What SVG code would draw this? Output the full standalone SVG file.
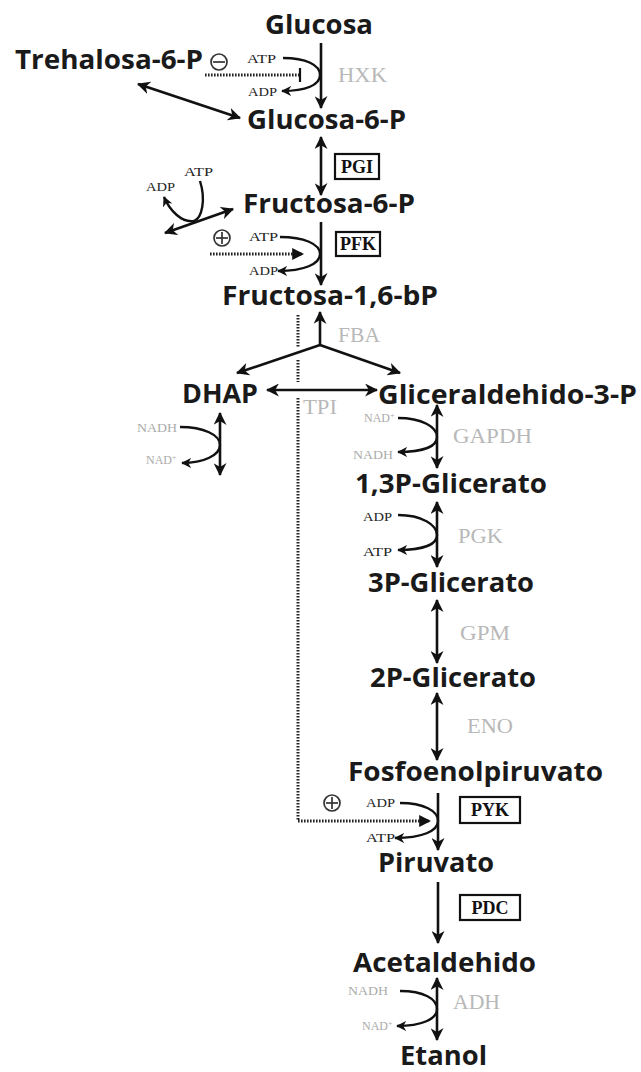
<svg xmlns="http://www.w3.org/2000/svg" width="641" height="1072" viewBox="0 0 641 1072">
<style>
.m{font-family:"Open Sans","Liberation Sans",sans-serif;font-weight:700;font-size:27px;fill:#1a1a1a}
.enz{font-family:"Liberation Serif",serif;font-size:21px;fill:#b8b8b8}
.co{font-family:"Liberation Serif",serif;font-size:12px;fill:#222}
.nad{font-family:"Liberation Serif",serif;font-size:12px;fill:#aaa}
.bx{font-family:"Liberation Serif",serif;font-weight:700;font-size:18px;fill:#111;text-anchor:middle}
.box{fill:#fff;stroke:#111;stroke-width:2.2}
.ln{fill:none;stroke:#111;stroke-width:2.6}
.cv{fill:none;stroke:#111;stroke-width:2.4}
.dot{fill:none;stroke:#222;stroke-width:3;stroke-dasharray:1.6 1.4}
.sym{fill:none;stroke:#333;stroke-width:1.7}
</style>
<defs>
<marker id="ah" viewBox="0 0 12 12" refX="11" refY="6" markerWidth="13" markerHeight="13" markerUnits="userSpaceOnUse" orient="auto-start-reverse">
<path d="M0,0 L12,6 L0,12 L3.5,6 z" fill="#111"/>
</marker>
<marker id="sh" viewBox="0 0 12 12" refX="11" refY="6" markerWidth="10" markerHeight="10" markerUnits="userSpaceOnUse" orient="auto-start-reverse">
<path d="M0,0 L12,6 L0,12 L3.5,6 z" fill="#111"/>
</marker>
<marker id="tri" viewBox="0 0 10 10" refX="9" refY="5" markerWidth="12" markerHeight="12" markerUnits="userSpaceOnUse" orient="auto">
<path d="M0,0 L10,5 L0,10 z" fill="#111"/>
</marker>
</defs>

<g id="connectors">
<line class="ln" x1="321" y1="43" x2="321" y2="108" marker-end="url(#ah)"/>
<line class="ln" x1="321" y1="137" x2="321" y2="195" marker-start="url(#ah)" marker-end="url(#ah)"/>
<line class="ln" x1="321" y1="222" x2="321" y2="285" marker-end="url(#ah)"/>
<line class="ln" x1="320" y1="345" x2="320" y2="312" marker-end="url(#ah)"/>
<line class="ln" x1="320" y1="345" x2="237" y2="373" marker-end="url(#ah)"/>
<line class="ln" x1="320" y1="345" x2="400" y2="373" marker-end="url(#ah)"/>
<line class="ln" x1="267" y1="390" x2="377" y2="390" marker-start="url(#ah)" marker-end="url(#ah)"/>
<line class="ln" x1="220" y1="413" x2="220" y2="475" marker-start="url(#ah)" marker-end="url(#ah)"/>
<line class="ln" x1="437" y1="405" x2="437" y2="468" marker-start="url(#ah)" marker-end="url(#ah)"/>
<line class="ln" x1="437" y1="502" x2="437" y2="567" marker-start="url(#ah)" marker-end="url(#ah)"/>
<line class="ln" x1="437" y1="600" x2="437" y2="663" marker-start="url(#ah)" marker-end="url(#ah)"/>
<line class="ln" x1="437" y1="693" x2="437" y2="760" marker-start="url(#ah)" marker-end="url(#ah)"/>
<line class="ln" x1="438" y1="793" x2="438" y2="850" marker-end="url(#ah)"/>
<line class="ln" x1="438" y1="882" x2="438" y2="943" marker-end="url(#ah)"/>
<line class="ln" x1="437" y1="978" x2="437" y2="1040" marker-start="url(#ah)" marker-end="url(#ah)"/>
<line class="ln" x1="138" y1="84" x2="240" y2="118" marker-start="url(#ah)" marker-end="url(#ah)"/>
<line class="ln" x1="165" y1="233" x2="233" y2="209" marker-start="url(#ah)" marker-end="url(#ah)"/>
<path class="cv" d="M283,58 C306,58 320,65 320,75 C320,85 306,91 282,91" marker-end="url(#sh)"/>
<path class="cv" d="M200,181 C206,200 202,218 194,221 C182,223 170,211 164,197" marker-end="url(#sh)"/>
<path class="cv" d="M280,237 C304,237 320,244 320,254 C320,264 304,271 278,271" marker-end="url(#sh)"/>
<path class="cv" d="M180,427 C204,427 220,435 220,445 C220,455 204,463 182,463" marker-end="url(#sh)"/>
<path class="cv" d="M398,418 C422,418 437,427 437,437 C437,447 422,452 398,452" marker-end="url(#sh)"/>
<path class="cv" d="M398,515 C422,515 437,525 437,535 C437,545 422,550 398,550" marker-end="url(#sh)"/>
<path class="cv" d="M400,803 C424,803 438,811 438,821 C438,831 422,838 395,838" marker-end="url(#sh)"/>
<path class="cv" d="M400,991 C424,991 437,999 437,1009 C437,1019 422,1026 397,1026" marker-end="url(#sh)"/>
<line class="dot" x1="205" y1="75" x2="299" y2="75"/>
<line x1="300" y1="68" x2="300" y2="82" stroke="#111" stroke-width="2.2"/>
<line class="dot" x1="210" y1="254" x2="303" y2="254" marker-end="url(#tri)"/>
<polyline class="dot" points="298,315 298,348"/>
<polyline class="dot" points="298,360 298,382"/>
<polyline class="dot" points="298,398 298,821 430,821" marker-end="url(#tri)"/>
</g>

<g id="symbols">
<g id="inhib-sign"><circle class="sym" cx="219" cy="62" r="8"/><line class="sym" x1="213" y1="62" x2="225" y2="62"/></g>
<g id="act-sign-pfk"><circle class="sym" cx="222" cy="238" r="8"/><line class="sym" x1="216" y1="238" x2="228" y2="238"/><line class="sym" x1="222" y1="232" x2="222" y2="244"/></g>
<g id="act-sign-pyk"><circle class="sym" cx="332" cy="803" r="8"/><line class="sym" x1="326" y1="803" x2="338" y2="803"/><line class="sym" x1="332" y1="797" x2="332" y2="809"/></g>
</g>

<g id="cofactors">
<text class="co" x="247" y="63" textLength="29" lengthAdjust="spacingAndGlyphs">ATP</text>
<text class="co" x="248" y="96" textLength="29" lengthAdjust="spacingAndGlyphs">ADP</text>
<text class="co" x="184" y="176" textLength="29" lengthAdjust="spacingAndGlyphs">ATP</text>
<text class="co" x="146" y="191" textLength="29" lengthAdjust="spacingAndGlyphs">ADP</text>
<text class="co" x="249" y="241" textLength="29" lengthAdjust="spacingAndGlyphs">ATP</text>
<text class="co" x="249" y="275" textLength="29" lengthAdjust="spacingAndGlyphs">ADP</text>
<text class="co" x="363" y="521" textLength="29" lengthAdjust="spacingAndGlyphs">ADP</text>
<text class="co" x="363" y="556" textLength="29" lengthAdjust="spacingAndGlyphs">ATP</text>
<text class="co" x="366" y="807" textLength="29" lengthAdjust="spacingAndGlyphs">ADP</text>
<text class="co" x="366" y="842" textLength="29" lengthAdjust="spacingAndGlyphs">ATP</text>
<text class="nad" x="364" y="422">NAD<tspan font-size="8" dy="-4">+</tspan></text>
<text class="nad" x="353" y="459" textLength="40" lengthAdjust="spacingAndGlyphs">NADH</text>
<text class="nad" x="137" y="432" textLength="40" lengthAdjust="spacingAndGlyphs">NADH</text>
<text class="nad" x="146" y="464">NAD<tspan font-size="8" dy="-4">+</tspan></text>
<text class="nad" x="348" y="995" textLength="40" lengthAdjust="spacingAndGlyphs">NADH</text>
<text class="nad" x="362" y="1030">NAD<tspan font-size="8" dy="-4">+</tspan></text>
</g>

<g id="enzymes">
<text class="enz" x="338" y="82" textLength="49" lengthAdjust="spacingAndGlyphs">HXK</text>
<g id="PGI"><rect class="box" x="335" y="154" width="44" height="25"/><text class="bx" x="357" y="173">PGI</text></g>
<g id="PFK"><rect class="box" x="336" y="232" width="44" height="24"/><text class="bx" x="358" y="250">PFK</text></g>
<text class="enz" x="338" y="342" textLength="42" lengthAdjust="spacingAndGlyphs">FBA</text>
<text class="enz" x="303" y="414" textLength="34" lengthAdjust="spacingAndGlyphs">TPI</text>
<text class="enz" x="453" y="443" textLength="79" lengthAdjust="spacingAndGlyphs">GAPDH</text>
<text class="enz" x="458" y="543" textLength="45" lengthAdjust="spacingAndGlyphs">PGK</text>
<text class="enz" x="460" y="640" textLength="50" lengthAdjust="spacingAndGlyphs">GPM</text>
<text class="enz" x="467" y="733" textLength="46" lengthAdjust="spacingAndGlyphs">ENO</text>
<g id="PYK"><rect class="box" x="460" y="797" width="60" height="26"/><text class="bx" x="490" y="816">PYK</text></g>
<g id="PDC"><rect class="box" x="460" y="895" width="60" height="25"/><text class="bx" x="490" y="914">PDC</text></g>
<text class="enz" x="453" y="1009" textLength="47" lengthAdjust="spacingAndGlyphs">ADH</text>
</g>

<g id="n-glucosa"><text class="m" x="265" y="34" textLength="108" lengthAdjust="spacingAndGlyphs">Glucosa</text></g>
<g id="n-trehalosa"><text class="m" x="15" y="69" textLength="188" lengthAdjust="spacingAndGlyphs">Trehalosa-6-P</text></g>
<g id="n-g6p"><text class="m" x="247" y="129" textLength="159" lengthAdjust="spacingAndGlyphs">Glucosa-6-P</text></g>
<g id="n-f6p"><text class="m" x="243" y="213" textLength="172" lengthAdjust="spacingAndGlyphs">Fructosa-6-P</text></g>
<g id="n-f16bp"><text class="m" x="222" y="305" textLength="216" lengthAdjust="spacingAndGlyphs">Fructosa-1,6-bP</text></g>
<g id="n-dhap"><text class="m" x="182" y="403" textLength="76" lengthAdjust="spacingAndGlyphs">DHAP</text></g>
<g id="n-gap"><text class="m" x="378" y="404" textLength="259" lengthAdjust="spacingAndGlyphs">Gliceraldehido-3-P</text></g>
<g id="n-13pg"><text class="m" x="355" y="493" textLength="192" lengthAdjust="spacingAndGlyphs">1,3P-Glicerato</text></g>
<g id="n-3pg"><text class="m" x="368" y="592" textLength="166" lengthAdjust="spacingAndGlyphs">3P-Glicerato</text></g>
<g id="n-2pg"><text class="m" x="370" y="687" textLength="166" lengthAdjust="spacingAndGlyphs">2P-Glicerato</text></g>
<g id="n-pep"><text class="m" x="348" y="781" textLength="255" lengthAdjust="spacingAndGlyphs">Fosfoenolpiruvato</text></g>
<g id="n-pyr"><text class="m" x="378" y="872" textLength="116" lengthAdjust="spacingAndGlyphs">Piruvato</text></g>
<g id="n-acet"><text class="m" x="353" y="972" textLength="183" lengthAdjust="spacingAndGlyphs">Acetaldehido</text></g>
<g id="n-etanol"><text class="m" x="400" y="1065" textLength="87" lengthAdjust="spacingAndGlyphs">Etanol</text></g>
</svg>
